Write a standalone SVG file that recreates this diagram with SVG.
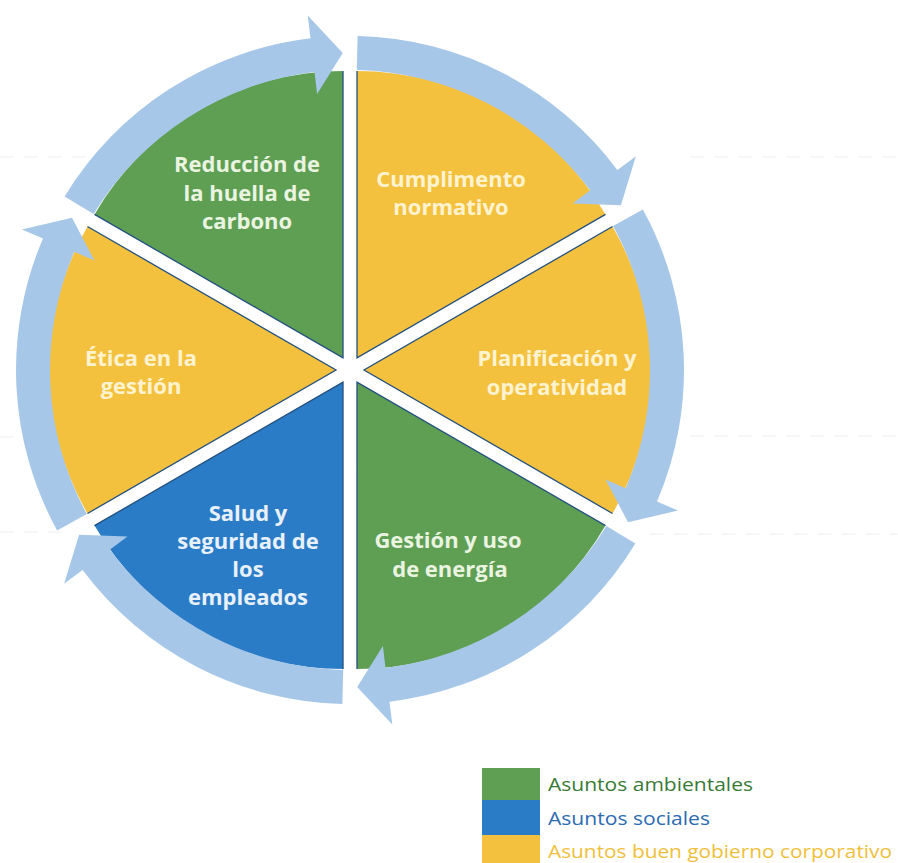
<svg xmlns="http://www.w3.org/2000/svg" width="898" height="863" viewBox="0 0 898 863">
<style>
.bg{fill:#ffffff}
.green{fill:#5e9f54}
.yellow{fill:#f4c13f}
.blue{fill:#2b7cc6}
.edge{fill:none;stroke:#23507e;stroke-width:1.3;stroke-linejoin:miter}
.arrow{fill:#a7c7e8}
.lbl{font-family:"Open Sans","Liberation Sans",sans-serif;font-weight:700;font-size:22px;text-anchor:middle}
.ty{fill:#fdf3cf}
.tg{fill:#eaf4e0}
.tb{fill:#e8f1fb}
.leg{font-family:"Open Sans","Liberation Sans",sans-serif;font-size:18px}
.scan{stroke:#eeeeee;stroke-width:1;stroke-dasharray:14 10}
</style>
<rect class="bg" x="0" y="0" width="898" height="863"/>
<g id="scan-lines">
<line class="scan" x1="0" y1="157" x2="115" y2="157"/>
<line class="scan" x1="690" y1="157" x2="898" y2="157"/>
<line class="scan" x1="0" y1="437" x2="28" y2="437"/>
<line class="scan" x1="690" y1="436" x2="898" y2="436"/>
<line class="scan" x1="0" y1="532" x2="60" y2="532"/>
<line class="scan" x1="650" y1="534" x2="898" y2="534"/>
</g>
<g id="node-reduccion">
<path class="green" d="M343 357.9 L94.5 214.4 A287 287 0 0 1 343 70.9 Z"/>
<path class="edge" d="M94.5 214.4 L343 357.9 L343 70.9"/>
<text class="lbl tg" x="247" y="172">Reducción de</text>
<text class="lbl tg" x="247" y="201">la huella de</text>
<text class="lbl tg" x="247" y="229">carbono</text>
</g>
<g id="node-cumplimiento">
<path class="yellow" d="M357 357.9 L357 70.9 A287 287 0 0 1 605.5 214.4 Z"/>
<path class="edge" d="M357 70.9 L357 357.9 L605.5 214.4"/>
<text class="lbl ty" x="451" y="187">Cumplimento</text>
<text class="lbl ty" x="451" y="215">normativo</text>
</g>
<g id="node-planificacion">
<path class="yellow" d="M364 370 L612.5 226.5 A287 287 0 0 1 612.5 513.5 Z"/>
<path class="edge" d="M612.5 226.5 L364 370 L612.5 513.5"/>
<text class="lbl ty" x="557" y="366">Planificación y</text>
<text class="lbl ty" x="557" y="395">operatividad</text>
</g>
<g id="node-gestion-energia">
<path class="green" d="M357 382.1 L605.5 525.6 A287 287 0 0 1 357 669.1 Z"/>
<path class="edge" d="M605.5 525.6 L357 382.1 L357 669.1"/>
<text class="lbl tg" x="448" y="548">Gestión y uso</text>
<text class="lbl tg" x="450" y="577">de energía</text>
</g>
<g id="node-salud">
<path class="blue" d="M343 382.1 L343 669.1 A287 287 0 0 1 94.5 525.6 Z"/>
<path class="edge" d="M343 669.1 L343 382.1 L94.5 525.6"/>
<text class="lbl tb" x="248" y="521">Salud y</text>
<text class="lbl tb" x="248" y="549">seguridad de</text>
<text class="lbl tb" x="248" y="577">los</text>
<text class="lbl tb" x="248" y="605">empleados</text>
</g>
<g id="node-etica">
<path class="yellow" d="M336 370 L87.5 513.5 A287 287 0 0 1 87.5 226.5 Z"/>
<path class="edge" d="M87.5 513.5 L336 370 L87.5 226.5"/>
<text class="lbl ty" x="141" y="366">Ética en la</text>
<text class="lbl ty" x="141" y="394">gestión</text>
</g>
<g id="connectors">
<path class="arrow" d="M64.6 196.5 A334 334 0 0 1 310.5 38.3 L307.7 15.5 L342.8 53.1 L317.1 93.9 L314.5 72.1 A300 300 0 0 0 93.6 214.1 Z"/>
<path class="arrow" d="M357.6 36.1 A334 334 0 0 1 617.4 169.9 L635.9 156.2 L620.9 205.3 L572.6 203.5 L590.2 190.3 A300 300 0 0 0 356.8 70.1 Z"/>
<path class="arrow" d="M642.9 209.6 A334 334 0 0 1 657.0 501.6 L678.1 510.6 L628.0 522.2 L605.5 479.5 L625.7 488.2 A300 300 0 0 0 613.1 225.9 Z"/>
<path class="arrow" d="M635.4 543.5 A334 334 0 0 1 389.5 701.7 L392.3 724.5 L357.2 686.9 L382.9 646.1 L385.5 667.9 A300 300 0 0 0 606.4 525.9 Z"/>
<path class="arrow" d="M342.4 703.9 A334 334 0 0 1 82.6 570.1 L64.1 583.8 L79.1 534.7 L127.4 536.5 L109.8 549.7 A300 300 0 0 0 343.2 669.9 Z"/>
<path class="arrow" d="M57.1 530.4 A334 334 0 0 1 43.0 238.4 L21.9 229.4 L72.0 217.8 L94.5 260.5 L74.3 251.8 A300 300 0 0 0 86.9 514.1 Z"/>
</g>
<g id="legend">
<rect class="green" x="482" y="768" width="58" height="32"/>
<rect class="blue" x="482" y="800" width="58" height="35"/>
<rect class="yellow" x="482" y="835" width="58" height="28"/>
<text class="leg" x="548" y="791" fill="#3a7a37" textLength="205" lengthAdjust="spacingAndGlyphs">Asuntos ambientales</text>
<text class="leg" x="548" y="825" fill="#2d6bb3" textLength="162" lengthAdjust="spacingAndGlyphs">Asuntos sociales</text>
<text class="leg" x="548" y="858" fill="#efbf3c" textLength="344" lengthAdjust="spacingAndGlyphs">Asuntos buen gobierno corporativo</text>
</g>
</svg>
